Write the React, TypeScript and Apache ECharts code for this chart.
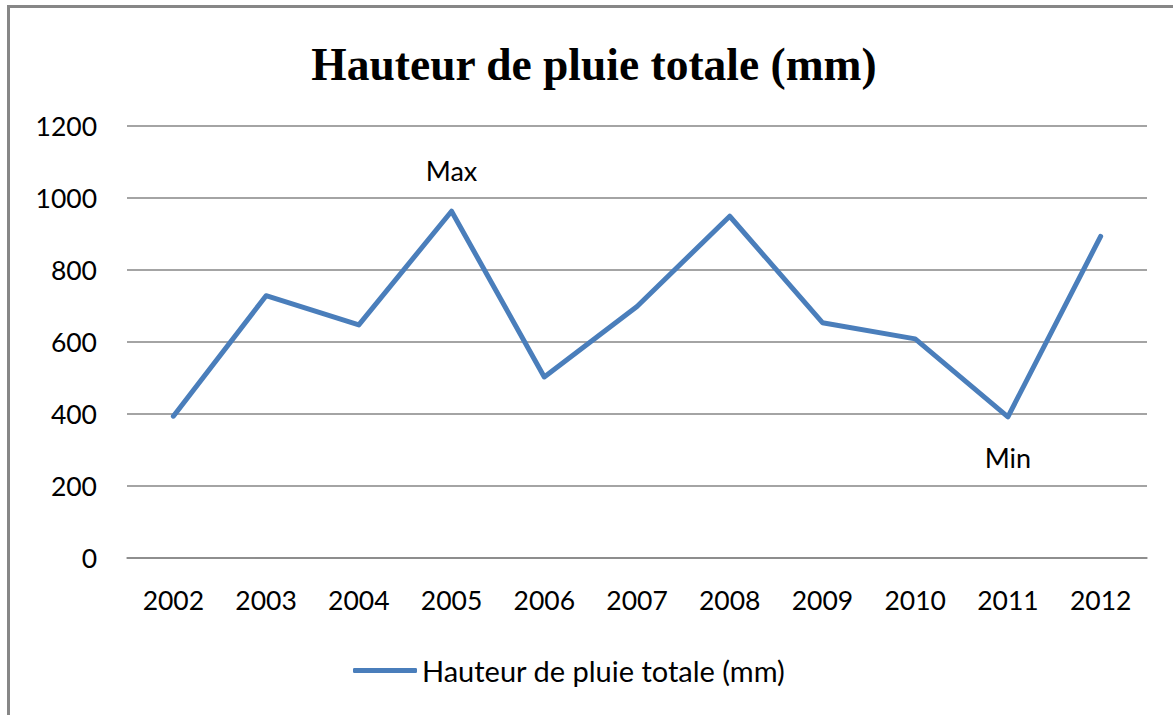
import React, { useEffect, useRef } from "react";
import * as echarts from "echarts";

const TITLE = "Hauteur de pluie totale (mm)";
const years = ["2002", "2003", "2004", "2005", "2006", "2007", "2008", "2009", "2010", "2011", "2012"];
const rainfall = [393, 728, 647, 963, 502, 698, 949, 653, 608, 391, 893];
const annotations = [
  { index: 3, text: "Max", position: "top" },
  { index: 9, text: "Min", position: "bottom" },
];
const yMin = 0;
const yMax = 1200;
const yStep = 200;

const FONT = "Lato, 'Open Sans', sans-serif";

export default function App() {
  const ref = useRef<HTMLDivElement>(null);
  useEffect(() => {
    document.body.style.margin = "0";
    if (!ref.current) return;
    const chart = echarts.init(ref.current, undefined, { renderer: "svg" });
    const data = rainfall.map((v, i) => {
      const a = annotations.find((x) => x.index === i);
      if (!a) return v;
      return {
        value: v,
        label: {
          show: true,
          position: a.position,
          distance: 27,
          formatter: a.text,
          fontSize: 27,
          color: "#000",
          fontFamily: FONT,
        },
      };
    });
    chart.setOption({
      animation: false,
      backgroundColor: "#fff",
      title: {
        text: TITLE,
        left: 589,
        top: 36,
        textAlign: "center",
        textStyle: {
          fontFamily: "'Liberation Serif', 'Times New Roman', serif",
          fontWeight: "bold",
          fontSize: 45.5,
          color: "#000",
        },
      },
      legend: {
        data: [{ name: TITLE, icon: "roundRect" }],
        left: 348,
        top: 651,
        itemWidth: 64,
        itemHeight: 5,
        itemGap: 5,
        itemStyle: { color: "#4a7ebb" },
        textStyle: { fontSize: 29, color: "#000", fontFamily: FONT },
      },
      grid: { left: 127, right: 26, top: 126, bottom: 157.5, containLabel: false },
      xAxis: {
        type: "category",
        data: years,
        boundaryGap: true,
        axisLine: { show: true, lineStyle: { color: "#868686", width: 1.5 } },
        axisTick: { show: false },
        axisLabel: { fontSize: 26.5, color: "#000", fontFamily: FONT, margin: 29 },
      },
      yAxis: {
        type: "value",
        min: yMin,
        max: yMax,
        interval: yStep,
        axisLine: { show: false },
        axisTick: { show: false },
        splitLine: { lineStyle: { color: "#868686", width: 1.5 } },
        axisLabel: {
          fontSize: 26.5,
          color: "#000",
          fontFamily: FONT,
          margin: 30,
          formatter: (v: number) => String(v),
        },
      },
      series: [
        {
          name: TITLE,
          type: "line",
          data,
          symbol: "circle",
          symbolSize: 0.01,
          showAllSymbol: true,
          lineStyle: { color: "#4a7ebb", width: 5, cap: "round", join: "round" },
          itemStyle: { color: "#4a7ebb" },
        },
      ],
      graphic: [
        {
          type: "line",
          shape: { x1: 8.5, y1: 5, x2: 8.5, y2: 715 },
          style: { stroke: "#878787", lineWidth: 3 },
        },
        {
          type: "line",
          shape: { x1: 7, y1: 6.5, x2: 1173, y2: 6.5 },
          style: { stroke: "#878787", lineWidth: 3 },
        },
      ],
    });
    return () => chart.dispose();
  }, []);
  return <div ref={ref} style={{ width: 1173, height: 715 }} />;
}
